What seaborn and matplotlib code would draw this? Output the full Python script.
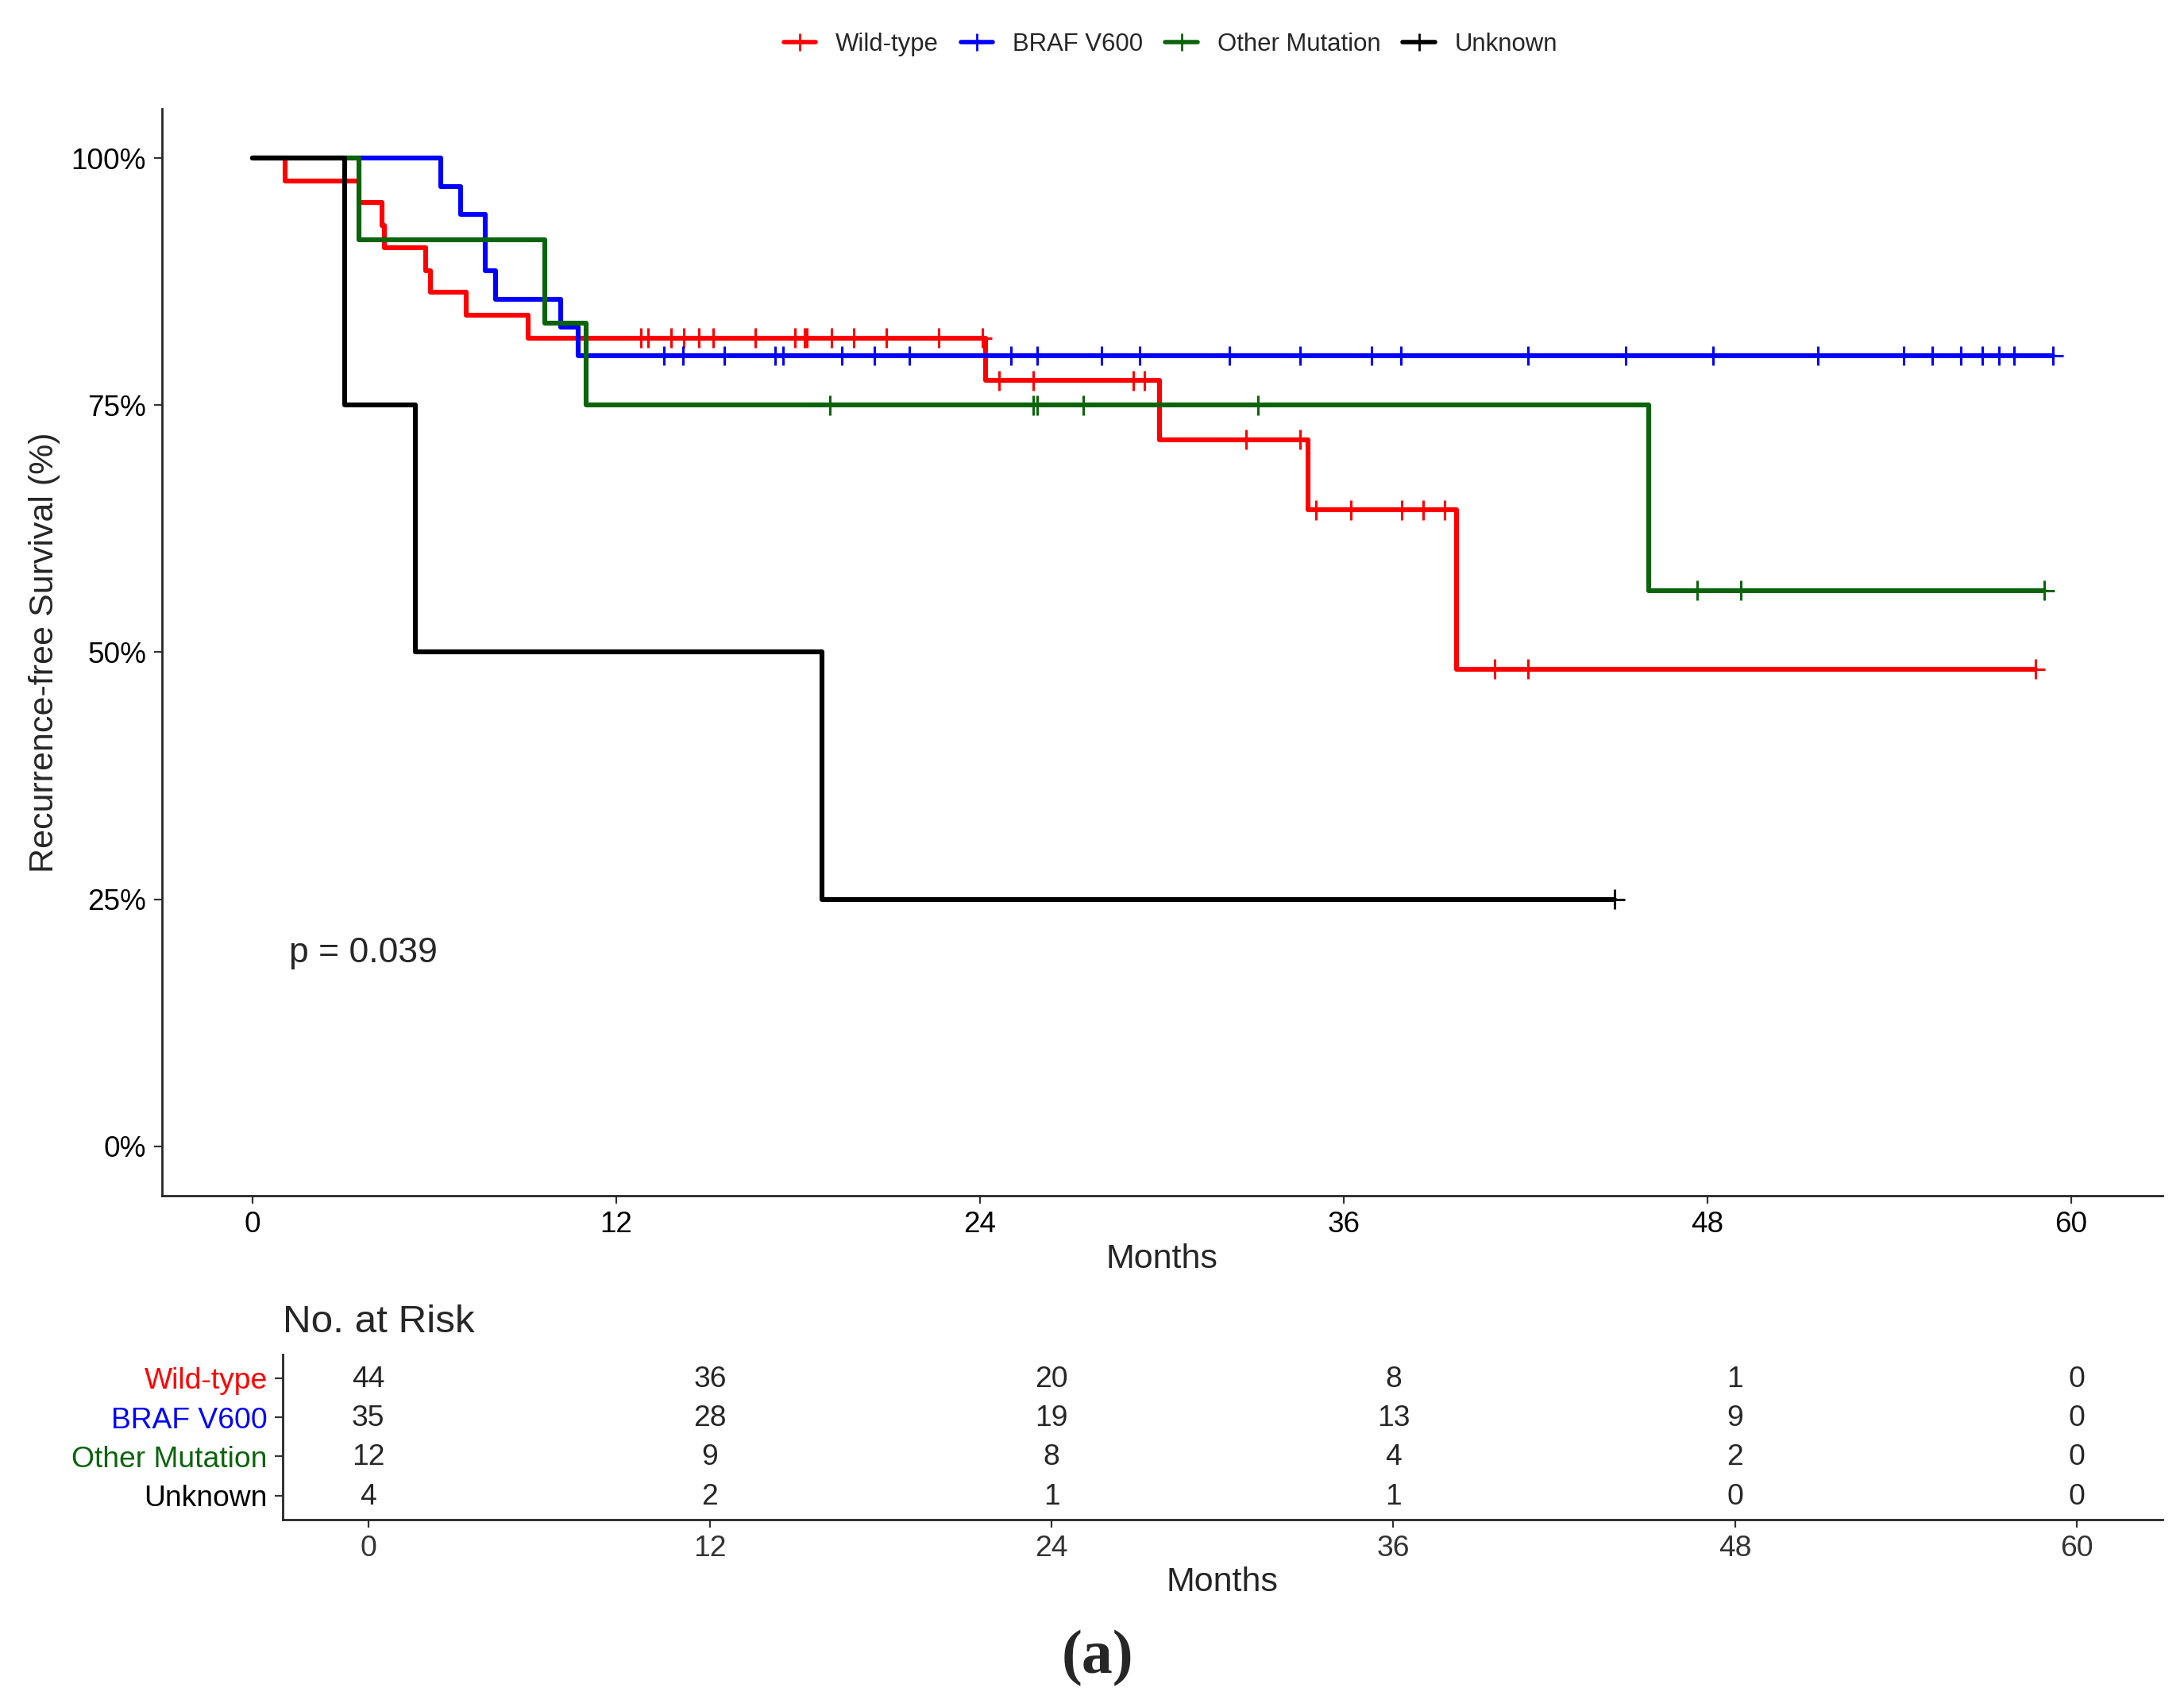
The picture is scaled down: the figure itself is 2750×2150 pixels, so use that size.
import numpy as np
import pandas as pd
import matplotlib
matplotlib.use("Agg")
import matplotlib.pyplot as plt
from matplotlib.lines import Line2D
import seaborn as sns

# groups and colours
groups = ["Wild-type", "BRAF V600", "Other Mutation", "Unknown"]
colors = ["#ff0000", "#0000ff", "#0b640b", "#000000"]

# event times (months) and survival after each step (%)
wt_times = [1.08, 3.51, 4.28, 4.35, 5.70, 5.87, 7.06, 9.09, 24.18, 29.91, 34.81, 39.71]
wt_surv = [97.7, 95.5, 93.2, 90.9, 88.6, 86.4, 84.1, 81.8, 77.5, 71.5, 64.4, 48.3]
wt_cens = [12.80, 13.04, 13.80, 14.22, 14.72, 15.19, 16.58, 17.90, 18.21, 18.30,
           19.09, 19.84, 20.91, 22.63, 24.08, 24.62, 25.76, 29.05, 29.42, 32.79,
           34.55, 35.09, 36.23, 37.92, 38.62, 39.32, 40.98, 42.07, 58.81]

braf_times = [6.22, 6.86, 7.68, 8.03, 10.16, 10.73]
braf_surv = [97.1, 94.3, 88.6, 85.7, 82.9, 80.0]
braf_cens = [13.56, 14.19, 15.56, 17.24, 17.50, 19.45, 20.51, 21.68, 25.01, 25.89,
             28.02, 29.26, 32.24, 34.55, 36.91, 37.89, 42.07, 45.31, 48.18, 51.63,
             54.46, 55.42, 56.35, 57.07, 57.62, 58.11, 59.41]

other_times = [3.51, 9.65, 11.00, 46.06]
other_surv = [91.7, 83.3, 75.0, 56.25]
other_cens = [19.05, 25.76, 25.89, 27.40, 33.18, 47.67, 49.09, 59.12]

unk_times = [3.03, 5.36, 18.79]
unk_surv = [75.0, 50.0, 25.0]
unk_cens = [44.94]

# number at risk table
risk_times = [0, 12, 24, 36, 48, 60]
wt_risk = [44, 36, 20, 8, 1, 0]
braf_risk = [35, 28, 19, 13, 9, 0]
other_risk = [12, 9, 8, 4, 2, 0]
unk_risk = [4, 2, 1, 1, 0, 0]

y_ticks = [0, 25, 50, 75, 100]
p_text = "p = 0.039"

all_times = [wt_times, braf_times, other_times, unk_times]
all_surv = [wt_surv, braf_surv, other_surv, unk_surv]
all_cens = [wt_cens, braf_cens, other_cens, unk_cens]
all_risk = [wt_risk, braf_risk, other_risk, unk_risk]

# build step curves and censor marks
curve_parts = []
cens_parts = []
for name, times, surv, cens in zip(groups, all_times, all_surv, all_cens):
    t = [0] + list(times) + [max(cens)]
    s = [100] + list(surv) + [surv[-1]]
    curve_parts.append(pd.DataFrame({"Months": t, "Survival": s, "group": name}))
    idx = np.searchsorted(times, cens, side="right")
    cens_parts.append(pd.DataFrame({"Months": cens,
                                    "Survival": np.r_[100, surv][idx],
                                    "group": name}))
curves = pd.concat(curve_parts, ignore_index=True)
censored = pd.concat(cens_parts, ignore_index=True)
palette = dict(zip(groups, colors))

sns.set_style("ticks")
plt.rcParams["font.family"] = ["Liberation Sans", "DejaVu Sans"]
plt.rcParams["axes.linewidth"] = 1.0

fig = plt.figure(figsize=(13.75, 10.75), dpi=200)

# survival curves
ax = fig.add_axes([0.074, 0.2996, 0.916, 0.6367])
sns.lineplot(data=curves, x="Months", y="Survival", hue="group", hue_order=groups,
             palette=palette, drawstyle="steps-post", estimator=None,
             linewidth=2.2, legend=False, ax=ax)
sns.scatterplot(data=censored, x="Months", y="Survival", hue="group", hue_order=groups,
                palette=palette, marker="+", s=80, linewidth=1.1, legend=False,
                ax=ax, zorder=4)
ax.set_xlim(-3, 63)
ax.set_ylim(-5, 105)
ax.set_xticks(risk_times)
ax.set_yticks(y_ticks)
ax.set_yticklabels([f"{v}%" for v in y_ticks])
ax.tick_params(labelsize=13.3, length=3.5, width=0.8, colors="#333333", labelcolor="black")
ax.set_xlabel("Months", fontsize=15.5, labelpad=2)
ax.set_ylabel("Recurrence-free Survival (%)", fontsize=15.5, labelpad=5)
ax.text(1.2, 19.5, p_text, fontsize=16, ha="left", va="center")
sns.despine(ax=ax)

handles = [Line2D([0], [0], color=c, lw=2.0, marker="+", markersize=8,
                  markeredgewidth=1.0) for c in colors]
fig.legend(handles, groups, loc="center", bbox_to_anchor=(0.536, 0.974), ncol=4,
           frameon=False, fontsize=11.2, handlelength=1.3, handletextpad=0.8,
           columnspacing=0.9)

# risk table
tax = fig.add_axes([0.1295, 0.110, 0.8605, 0.0965])
rows = [4, 3, 2, 1]
for y, counts in zip(rows, all_risk):
    for t, n in zip(risk_times, counts):
        tax.text(t, y - 0.03, str(n), ha="center", va="center", fontsize=13.4)
tax.set_xlim(-3, 63)
tax.set_ylim(0.4, 4.6)
tax.set_xticks(risk_times)
tax.set_yticks(rows)
tax.set_yticklabels(groups)
tax.tick_params(labelsize=13.4, length=3.5, width=0.8, colors="#333333")
for lab, c in zip(tax.get_yticklabels(), colors):
    lab.set_color(c)
tax.set_xlabel("Months", fontsize=15.5, labelpad=2)
tax.set_title("No. at Risk", loc="left", fontsize=17.8, pad=10)
sns.despine(ax=tax)

fig.text(0.5026, 0.0286, "(a)", fontfamily="Liberation Serif", fontweight="bold",
         fontsize=28, ha="center", va="center")

fig.savefig("out.png", dpi=200)
